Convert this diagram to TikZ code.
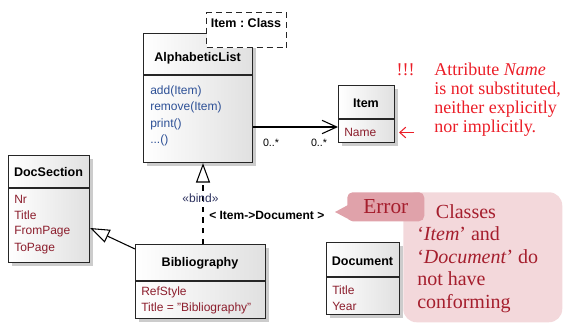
\documentclass[tikz,border=0pt]{standalone}
\usepackage{fontspec}
\setmainfont{Liberation Sans}
\newfontfamily\notefont{Liberation Serif}
\usetikzlibrary{arrows.meta,shadows}
\definecolor{attrred}{RGB}{140,30,45}
\definecolor{methblue}{RGB}{45,80,150}
\definecolor{bindblue}{RGB}{45,50,95}
\definecolor{notered}{RGB}{235,30,40}
\definecolor{errred}{RGB}{165,30,45}
\definecolor{errbg}{RGB}{243,216,219}
\definecolor{errtabbg}{RGB}{224,162,170}
\tikzset{
  classbox/.style={draw=black!85, line width=0.9pt, anchor=north west, inner sep=0pt,
    left color=white, right color=black!12,
    drop shadow={shadow xshift=2.2pt, shadow yshift=-2.2pt, opacity=0.4}},
  divider/.style={draw=black!85, line width=0.9pt},
  tparam/.style={draw=black!85, fill=white, line width=0.9pt, dash pattern=on 4.5pt off 3pt,
    anchor=north west, inner sep=0pt},
  ctitle/.style={inner sep=0pt, font=\fontsize{9.4}{11}\selectfont\bfseries},
  attr/.style={anchor=west, inner sep=0pt, text=attrred, font=\fontsize{9}{11}\selectfont},
  meth/.style={attr, text=methblue},
  mult/.style={inner sep=0pt, font=\fontsize{8}{10}\selectfont},
  assoc/.style={line width=0.8pt, -{Straight Barb[length=11pt,width=10pt,line width=0.8pt]}},
  inherit/.style={line width=0.8pt, -{Triangle[open,length=14.5pt,width=10.5pt,fill=white]}},
  realize/.style={inherit, dash pattern=on 4pt off 4pt},
  notetxt/.style={inner sep=0pt, text=notered, font=\notefont\fontsize{13.5}{14.3}\selectfont},
  errtxt/.style={inner sep=0pt, text=errred, font=\notefont\fontsize{15}{16.9}\selectfont},
}
\begin{document}
\frenchspacing
\begin{tikzpicture}[x=0.75pt,y=-0.75pt]
\useasboundingbox (0,0) rectangle (566,324);
% AlphabeticList with its template parameter
\node [classbox, minimum width=81.75pt, minimum height=96.75pt] (alist) at (143,33) {};
\draw [divider] (alist.west |- 0,75) -- (alist.east |- 0,75);
\node [tparam, minimum width=60pt, minimum height=26.25pt] (tpl) at (206,12) {};
\node [ctitle] (tplname) at (246,23) {Item : Class};
\node [ctitle] (alisttitle) at (197.5,58) {AlphabeticList};
\node [meth] (add) at (150,91) {add(Item)};
\node [meth] (remove) at (150,107.5) {remove(Item)};
\node [meth] (print) at (150,124) {print()};
\node [meth] (more) at (150,140) {...()};
% Item
\node [classbox, minimum width=42pt, minimum height=42.75pt] (item) at (338,85) {};
\draw [divider] (item.west |- 0,119) -- (item.east |- 0,119);
\node [ctitle] (itemtitle) at (366,103) {Item};
\node [attr] (name) at (344,132) {Name};
% DocSection
\node [classbox, minimum width=60.75pt, minimum height=80.25pt] (docsec) at (8,155) {};
\draw [divider] (docsec.west |- 0,188) -- (docsec.east |- 0,188);
\node [ctitle] (docsectitle) at (48.5,172) {DocSection};
\node [attr] (nr) at (14,199) {Nr};
\node [attr] (title) at (14,215.5) {Title};
\node [attr] (frompage) at (14,232) {FromPage};
\node [attr] (topage) at (14,248.5) {ToPage};
% Bibliography
\node [classbox, minimum width=97.5pt, minimum height=55.5pt] (biblio) at (135,244) {};
\draw [divider] (biblio.west |- 0,281) -- (biblio.east |- 0,281);
\node [ctitle] (bibliotitle) at (200,263) {Bibliography};
\node [attr] (refstyle) at (141,292) {RefStyle};
\node [attr] (bibtitle) at (141,308) {Title = "Bibliography"};
% Document
\node [classbox, minimum width=54.75pt, minimum height=54pt] (doc) at (326,242) {};
\draw [divider] (doc.west |- 0,277) -- (doc.east |- 0,277);
\node [ctitle] (doctitle) at (362.5,261) {Document};
\node [attr] (doctitle2) at (332,290) {Title};
\node [attr] (year) at (332,306) {Year};
% connectors
\draw [assoc] (alist.east |- 0,127) -- (item.west |- 0,127);
\node [mult] (multa) at (271,143) {0..*};
\node [mult] (multb) at (319,143) {0..*};
\draw [inherit] (biblio.north west |- 0,249) -- (docsec.east |- 0,228);
\draw [realize] (biblio.north -| 203,0) -- (alist.south -| 203,0);
\node [inner sep=0pt, text=bindblue, font=\fontsize{9}{10}\selectfont] (bind) at (200.5,198) {«bind»};
\node [anchor=west, inner sep=0pt, font=\fontsize{9}{11}\selectfont\bfseries] (bindargs) at (209,215) {< Item->Document >};
% note on Name
\node [notetxt, anchor=base] (bang) at (405.5,76) {!!!};
\node [notetxt, anchor=north west, align=left] (note) at (434,63) {Attribute \textit{Name}\\is not substituted,\\neither explicitly\\nor implicitly.};
\coordinate (pointstart) at (414,132.5);
\coordinate (pointend) at (399,132.5);
\draw [notered, line width=0.8pt, -{Straight Barb[length=4.5pt,width=8pt,line width=0.8pt]}] (pointstart) -- (pointend);
% error callout
\node [fill=errbg, rounded corners=10pt, anchor=north west, minimum width=119.25pt, minimum height=97.5pt] (errbody) at (403,192) {};
\coordinate (errtip) at (335,212);
\fill [errtabbg] (348,205) -- (errtip) -- (352,221) -- cycle;
\node [fill=errtabbg, rounded corners=4pt, anchor=north west, minimum width=57.75pt, minimum height=21.75pt, inner sep=0pt, text=errred, font=\notefont\fontsize{16}{18}\selectfont] (errtab) at (347,192) {Error};
\node [errtxt, anchor=north west, align=left] (errmsg) at (417,204) {\hspace*{14pt}Classes\\‘\textit{Item}’ and\\‘\textit{Document}’ do\\not have\\conforming};
\end{tikzpicture}
\end{document}
